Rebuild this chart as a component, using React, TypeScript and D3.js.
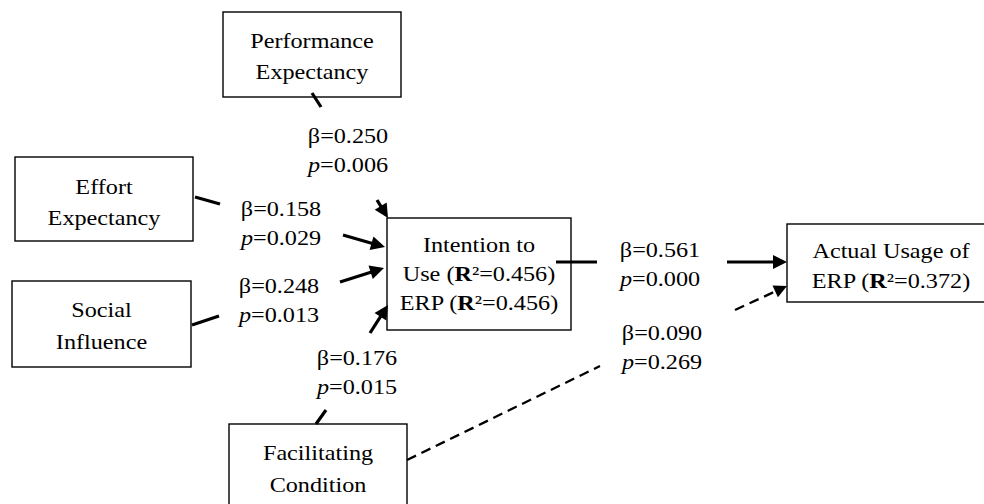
import React from "react";
import * as d3 from "d3";

// ---------- data ----------
const constructs = ["Performance Expectancy", "Effort Expectancy", "Social Influence", "Facilitating Condition", "Intention to Use ERP", "Actual Usage of ERP"];
const pathFrom = ["perf", "effort", "social", "facil", "intent", "facil"];
const pathTo = ["intent", "intent", "intent", "intent", "actual", "actual"];
const betas = [0.25, 0.158, 0.248, 0.176, 0.561, 0.09];
const pValues = [0.006, 0.029, 0.013, 0.015, 0.0, 0.269];
const significant = [true, true, true, true, true, false];
const rSquared = { intent: 0.456, actual: 0.372 };

// ---------- layout ----------
const W = 984, H = 504;
const FONT = "'Liberation Serif', 'Times New Roman', serif";
const FS = 22;
const SX = 1.1;

type Box = { id: string; x: number; y: number; w: number; h: number; base: number[] };
const boxes: Box[] = [
  { id: "perf", x: 223, y: 12, w: 178, h: 85, base: [48, 79] },
  { id: "effort", x: 15, y: 157, w: 178, h: 84, base: [194, 225] },
  { id: "social", x: 12, y: 281, w: 179, h: 86, base: [317, 349] },
  { id: "facil", x: 229, y: 424, w: 178, h: 100, base: [460, 492] },
  { id: "intent", x: 387, y: 218, w: 184, h: 112, base: [252, 281, 310] },
  { id: "actual", x: 787, y: 224, w: 208, h: 78, base: [258, 288] },
];

// per path: tail segment, arrow segment, label centre & first baseline
const pathLayout = [
  { tail: [[312, 93], [321, 107]], head: [[377, 200], [388, 218]], label: [348, 143] },
  { tail: [[195, 197], [220, 204]], head: [[343, 235], [385, 247]], label: [281, 216] },
  { tail: [[192, 325], [219, 316]], head: [[340, 282], [384, 268]], label: [279, 293] },
  { tail: [[316, 424], [326, 410]], head: [[370, 333], [388, 305]], label: [357, 365] },
  { tail: [[556, 262], [597, 262]], head: [[727, 262], [787, 262]], label: [660, 257] },
  { tail: [[407, 460], [600, 366]], head: [[735, 310], [787, 286]], label: [662, 340] },
];
const LINE_GAP = 29;

const fmt = d3.format(".3f");

function T({ x, y, children, weight }: { x: number; y: number; children: React.ReactNode; weight?: string }) {
  return (
    <text
      transform={`translate(${x},${y}) scale(${SX},1)`}
      textAnchor="middle"
      fontFamily={FONT}
      fontSize={FS}
      fontWeight={weight}
      fill="#000"
    >
      {children}
    </text>
  );
}

function boxLines(id: string): React.ReactNode[] {
  if (id === "perf") return ["Performance", "Expectancy"];
  if (id === "effort") return ["Effort", "Expectancy"];
  if (id === "social") return ["Social", "Influence"];
  if (id === "facil") return ["Facilitating", "Condition"];
  if (id === "intent")
    return [
      "Intention to",
      <>Use (<tspan fontWeight="bold">R</tspan>²={fmt(rSquared.intent)})</>,
      <>ERP (<tspan fontWeight="bold">R</tspan>²={fmt(rSquared.intent)})</>,
    ];
  return [
    "Actual Usage of",
    <>ERP (<tspan fontWeight="bold">R</tspan>²={fmt(rSquared.actual)})</>,
  ];
}

function arrowHead(p0: number[], p1: number[], len = 14, half = 7) {
  const dx = p1[0] - p0[0], dy = p1[1] - p0[1];
  const L = Math.hypot(dx, dy);
  const ux = dx / L, uy = dy / L;
  const bx = p1[0] - ux * len, by = p1[1] - uy * len;
  const p = d3.path();
  p.moveTo(p1[0], p1[1]);
  p.lineTo(bx - uy * half, by + ux * half);
  p.lineTo(bx + uy * half, by - ux * half);
  p.closePath();
  return { d: p.toString(), base: [bx + ux * 1, by + uy * 1] };
}

export default function App() {
  const line = d3.line();
  return (
    <svg width={W} height={H} style={{ position: "absolute", left: 0, top: 0, background: "#fff" }}>
      <rect x={0} y={0} width={W} height={H} fill="#fff" />
      {boxes.map((b) => {
        const lines = boxLines(b.id);
        return (
          <g key={b.id}>
            <rect x={b.x} y={b.y} width={b.w} height={b.h} fill="#fff" stroke="#000" strokeWidth={1.4} />
            {lines.map((l, k) => (
              <T key={k} x={b.x + b.w / 2} y={b.base[k]}>{l}</T>
            ))}
          </g>
        );
      })}
      {pathLayout.map((pl, i) => {
        const dashed = !significant[i];
        const sw = dashed ? 2.3 : 3.2;
        const ah = arrowHead(pl.head[0], pl.head[1], dashed ? 13 : 14, dashed ? 6.5 : 7);
        return (
          <g key={i}>
            <path d={line(pl.tail as [number, number][]) || ""} stroke="#000" strokeWidth={sw} fill="none" strokeDasharray={dashed ? "10,6" : undefined} />
            <path d={line([pl.head[0], ah.base] as [number, number][]) || ""} stroke="#000" strokeWidth={sw} fill="none" strokeDasharray={dashed ? "10,6" : undefined} />
            <path d={ah.d} fill="#000" />
            <T x={pl.label[0]} y={pl.label[1]}>β={fmt(betas[i])}</T>
            <T x={pl.label[0]} y={pl.label[1] + LINE_GAP}>
              <tspan fontStyle="italic">p</tspan>={fmt(pValues[i])}
            </T>
          </g>
        );
      })}
    </svg>
  );
}
